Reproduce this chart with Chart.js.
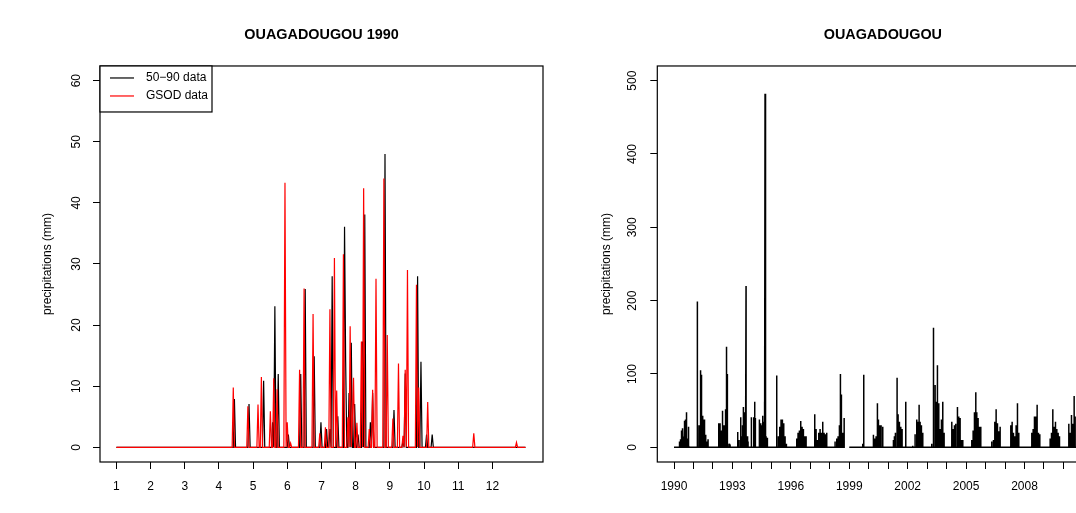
<!DOCTYPE html>
<html><head><meta charset="utf-8">
<script src="https://cdn.jsdelivr.net/npm/chart.js@4.4.1/dist/chart.umd.min.js"></script>
<style>
html,body{margin:0;padding:0;background:#fff;overflow:hidden;width:1076px;height:513px}
#wrap{position:relative;width:1076px;height:513px;overflow:hidden;background:#fff}
canvas{position:absolute;top:0}
#c1{left:0}
#c2{left:575px}
</style></head><body>
<div id="wrap"><canvas id="c1" width="575" height="513"></canvas><canvas id="c2" width="575" height="513"></canvas></div>
<script>
// ---------- text ----------
const leftTitle = 'OUAGADOUGOU 1990';
const rightTitle = 'OUAGADOUGOU';
const yAxisTitle = 'precipitations (mm)';
const seriesNames = ['50\u221290 data', 'GSOD data'];

// ---------- ticks ----------
const monthTicks = [1,2,3,4,5,6,7,8,9,10,11,12];
const monthTickLabels = ['1','2','3','4','5','6','7','8','9','10','11','12'];
const leftYTicks = [0,10,20,30,40,50,60];
const rightYTicks = [0,100,200,300,400,500];
const yearTicks = [1990,1991,1992,1993,1994,1995,1996,1997,1998,1999,2000,2001,2002,2003,2004,2005,2006,2007,2008,2009,2010];
const yearTickLabels = ['1990','','','1993','','','1996','','','1999','','','2002','','','2005','','','2008','',''];

// ---------- 1990 daily data (day of year, 0-based; mm) ----------
const rain5090Days = [105,118,131,139,141,144,153,164,168,176,182,187,190,192,197,203,204,207,209,212,215,219,221,226,228,239,247,255,257,268,271,276,281];
const rain5090Mm   = [7.9,7.1,10.9,4.1,23.1,12.0,2.1,12.0,25.9,14.9,4.1,3.0,3.0,28.0,5.1,36.1,14.0,8.9,17.1,7.1,2.1,17.3,38.1,4.1,8.9,48.0,6.1,1.0,12.1,28.0,14.0,2.1,2.1];
const gsodDays = [104,117,126,129,137,140,143,150,152,155,163,167,175,181,186,190,194,196,202,206,208,210,211,214,218,220,225,228,231,238,241,246,251,255,257,259,267,269,277,318,356];
const gsodMm   = [9.8,6.7,7.0,11.5,5.9,11.3,9.5,43.3,4.1,0.7,12.7,26.0,21.8,2.3,3.3,22.6,31.0,9.3,31.6,4.9,19.8,5.1,11.4,4.0,17.3,42.4,3.0,9.4,27.6,44.0,18.4,4.7,13.7,1.9,12.7,29.0,26.6,9.8,7.4,2.3,0.8];
const daysPerYear = 365;

// ---------- long series 1991-2011: rain events (decimal year; mm) ----------
const eventDates = [
 1991.199,1991.284,1991.318,1991.353,1991.387,1991.421,1991.473,1991.507,1991.541,1991.575,1991.627,1991.678,1991.747,
 1992.295,1992.363,1992.432,1992.466,1992.500,1992.568,1992.603,1992.637,1992.671,1992.705,1992.740,1992.825,1992.877,
 1993.271,1993.339,1993.425,1993.493,1993.527,1993.562,1993.613,1993.664,1993.699,1993.767,1993.801,1993.973,
 1994.092,1994.144,1994.178,1994.384,1994.452,1994.503,1994.555,1994.606,1994.640,1994.675,1994.726,1994.795,
 1995.274,1995.360,1995.428,1995.497,1995.565,1995.634,1995.702,1995.771,
 1996.301,1996.370,1996.438,1996.507,1996.575,1996.644,1996.712,1996.781,
 1997.226,1997.295,1997.363,1997.432,1997.500,1997.568,1997.637,1997.705,1997.774,1997.842,
 1998.271,1998.356,1998.425,1998.493,1998.545,1998.596,1998.664,1998.733,
 1999.692,1999.743,
 2000.240,2000.308,2000.377,2000.445,2000.497,2000.565,2000.634,2000.719,
 2001.267,2001.318,2001.370,2001.455,2001.507,2001.575,2001.644,2001.712,2001.901,
 2002.260,2002.380,2002.466,2002.517,2002.586,2002.637,2002.705,2002.774,
 2003.236,2003.305,2003.339,2003.408,2003.459,2003.527,2003.596,2003.664,2003.733,2003.801,2003.870,
 2004.264,2004.332,2004.401,2004.469,2004.555,2004.623,2004.692,2004.760,2004.829,
 2005.291,2005.360,2005.428,2005.497,2005.548,2005.616,2005.685,2005.753,
 2006.318,2006.404,2006.473,2006.541,2006.610,2006.678,2006.747,
 2007.295,2007.363,2007.432,2007.500,2007.568,2007.637,2007.705,
 2008.373,2008.442,2008.510,2008.579,2008.647,2008.716,2008.784,
 2009.315,2009.384,2009.452,2009.521,2009.589,2009.658,2009.726,2009.795,
 2010.274,2010.342,2010.411,2010.479,2010.548,2010.599,2010.685,2010.771,
 2011.300,2011.400];
const eventMm = [
 199,30,20,105,60,99,43,15,38,25,17,8,11,
 33,33,23,15,50,30,20,52,25,137,100,5,4,
 21,10,41,15,30,55,48,20,220,15,8,41,
 41,62,40,38,33,30,43,35,62,482,15,13,
 98,15,28,38,38,33,15,5,
 12,20,23,36,28,25,15,15,
 45,25,10,20,25,20,35,20,18,20,
 8,12,15,30,100,72,20,40,
 5,99,
 17,12,15,60,38,30,30,28,
 10,15,20,95,45,35,28,25,62,
 2,18,38,35,58,35,30,20,
 5,20,163,85,62,112,60,25,38,62,20,
 35,25,30,32,55,42,40,10,10,
 10,23,48,75,48,40,28,28,
 8,10,35,52,33,22,28,
 30,35,20,15,30,60,20,
 20,25,42,42,58,20,18,
 12,20,52,28,35,25,20,15,
 32,20,44,32,70,42,30,15,
 25,40];
const missingFrom = [1998.745];
const missingTo = [1999.0];
const seriesStart = 1990.0, seriesEnd = 2011.45;

// ---------- build datasets ----------
function dailyArray(days, mm){
  const a = new Array(daysPerYear).fill(0);
  days.forEach((d,i)=>{ a[d] = mm[i]; });
  return a;
}
const daily5090 = dailyArray(rain5090Days, rain5090Mm);
const dailyGsod = dailyArray(gsodDays, gsodMm);
const monthPos = d => 1 + d * 12 / daysPerYear;
const left5090 = daily5090.map((v,d)=>({x: monthPos(d), y: v}));
const leftGsod = dailyGsod.map((v,d)=>({x: monthPos(d), y: v}));

const longPts = [];
daily5090.forEach((v,d)=>longPts.push({x: seriesStart + d/daysPerYear, y: v}));
const oneDay = 1/daysPerYear;
eventDates.forEach((t,i)=>{
  longPts.push({x: t-oneDay, y: 0}, {x: t, y: eventMm[i]}, {x: t+oneDay, y: 0});
});
missingFrom.forEach((f,i)=>{
  longPts.push({x: f, y: 0}, {x: (f+missingTo[i])/2, y: null}, {x: missingTo[i], y: 0});
});
longPts.push({x: seriesEnd, y: 0});
longPts.sort((a,b)=>a.x-b.x);

// ---------- helpers ----------
Chart.defaults.font.family = "'Liberation Sans', Arial, Helvetica, sans-serif";
Chart.defaults.color = '#000';

const frame = {id:'frame', afterDatasetsDraw(chart){
  const {ctx, chartArea:a} = chart;
  ctx.save(); ctx.strokeStyle='#000'; ctx.lineWidth=1.2;
  ctx.strokeRect(a.left, a.top, a.right-a.left, a.bottom-a.top);
  ctx.restore();
}};
const boxLegend = {id:'boxLegend', afterDraw(chart, args, opts){
  if(!opts.show) return;
  const {ctx, chartArea:a} = chart;
  const x=a.left, y=a.top, w=112, h=46;
  ctx.save();
  ctx.fillStyle='#fff'; ctx.fillRect(x,y,w,h);
  ctx.strokeStyle='#000'; ctx.lineWidth=1.2; ctx.strokeRect(x,y,w,h);
  ctx.font = "12px 'Liberation Sans', Arial, sans-serif";
  ctx.textBaseline='middle'; ctx.textAlign='left';
  chart.data.datasets.forEach((ds,i)=>{
    const yy = y + 12 + i*18;
    ctx.strokeStyle = ds.borderColor; ctx.lineWidth = 1.2;
    ctx.beginPath(); ctx.moveTo(x+10, yy); ctx.lineTo(x+34, yy); ctx.stroke();
    ctx.fillStyle='#000'; ctx.fillText(ds.label, x+46, yy);
  });
  ctx.restore();
}};

const tickGrid = {display:true, drawOnChartArea:false, drawTicks:true, tickLength:7, color:'#000', lineWidth:1};

function xScale(min, max, ticks, labels){
  return {type:'linear', min, max,
    afterBuildTicks: s => { s.ticks = ticks.map(v=>({value:v})); },
    afterFit: s => { s.height = 51; },
    grid: tickGrid, border:{display:false},
    ticks:{autoSkip:false, maxRotation:0, minRotation:0, padding:10.5, color:'#000', font:{size:12},
      callback:(v,i)=>labels[i]}};
}
function yScale(min, max, ticks, width, labelPad, titlePad){
  return {type:'linear', min, max,
    afterBuildTicks: s => { s.ticks = ticks.map(v=>({value:v})); },
    afterFit: s => { s.width = width; },
    grid: tickGrid, border:{display:false},
    ticks:{minRotation:90, maxRotation:90, crossAlign:'center', padding:labelPad, color:'#000', font:{size:12},
      callback: v => String(v)},
    title:{display:true, text:yAxisTitle, color:'#000', font:{size:12}, padding:{top:titlePad, bottom:0}}};
}
function titleOpts(text){
  return {display:true, text, fullSize:false, color:'#000', font:{size:14.4, weight:'bold'}, padding:{top:26, bottom:22.7}};
}
const common = {responsive:false, animation:false, events:[], devicePixelRatio:1};

new Chart(document.getElementById('c1'), {
  type:'line',
  data:{datasets:[
    {label:seriesNames[0], data:left5090, borderColor:'#000000', borderWidth:1.2, pointRadius:0, tension:0, order:1},
    {label:seriesNames[1], data:leftGsod, borderColor:'#ff0000', borderWidth:1.2, pointRadius:0, tension:0, order:0}
  ]},
  options:{...common,
    layout:{padding:{left:0, right:32, top:0, bottom:0}},
    scales:{
      x: xScale(0.52, 13.48, monthTicks, monthTickLabels),
      y: yScale(-2.4, 62.4, leftYTicks, 100, 9.5, 40.8)
    },
    plugins:{legend:{display:false}, tooltip:{enabled:false}, title:titleOpts(leftTitle), boxLegend:{show:true}}
  },
  plugins:[frame, boxLegend]
});

new Chart(document.getElementById('c2'), {
  type:'line',
  data:{datasets:[
    {label:seriesNames[0], data:longPts, borderColor:'#000000', borderWidth:1.5, pointRadius:0, tension:0, spanGaps:false}
  ]},
  options:{...common,
    layout:{padding:{left:0, right:41.6, top:0, bottom:0}},
    scales:{
      x: xScale(1989.142, 2012.308, yearTicks, yearTickLabels),
      y: yScale(-20, 520, rightYTicks, 82.3, 8.0, 24.1)
    },
    plugins:{legend:{display:false}, tooltip:{enabled:false}, title:titleOpts(rightTitle), boxLegend:{show:false}}
  },
  plugins:[frame, boxLegend]
});
</script>
</body></html>
